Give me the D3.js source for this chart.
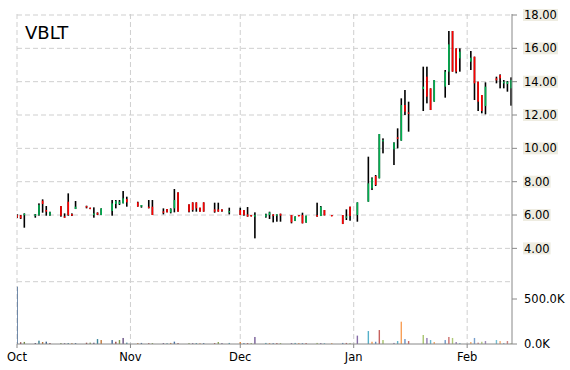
<!DOCTYPE html>
<html>
<head>
<meta charset="utf-8">
<script src="https://cdn.jsdelivr.net/npm/d3@7"></script>
<style>
  body { margin: 0; background: #fff; }
  svg { display: block; }
  text { font-family: "DejaVu Sans", Verdana, sans-serif; }
</style>
</head>
<body>
<div id="chart"></div>
<script>
// VBLT daily candles + volume, Oct 2025 - Feb 2026
const ticker = "VBLT";

const dates = [
  "2025-10-01","2025-10-02","2025-10-03","2025-10-06","2025-10-07","2025-10-08","2025-10-09","2025-10-10",
  "2025-10-13","2025-10-14","2025-10-15","2025-10-16","2025-10-17","2025-10-20","2025-10-21","2025-10-22",
  "2025-10-23","2025-10-24","2025-10-27","2025-10-28","2025-10-29","2025-10-30","2025-10-31",
  "2025-11-03","2025-11-04","2025-11-06","2025-11-07","2025-11-10","2025-11-11","2025-11-12","2025-11-13",
  "2025-11-14","2025-11-17","2025-11-18","2025-11-19","2025-11-20","2025-11-21","2025-11-24","2025-11-25",
  "2025-11-26","2025-11-28",
  "2025-12-01","2025-12-02","2025-12-03","2025-12-04","2025-12-05","2025-12-08","2025-12-09","2025-12-10",
  "2025-12-11","2025-12-12","2025-12-15","2025-12-16","2025-12-17","2025-12-18","2025-12-19","2025-12-22",
  "2025-12-23","2025-12-24","2025-12-26","2025-12-29","2025-12-30","2025-12-31",
  "2026-01-02","2026-01-05","2026-01-06","2026-01-07","2026-01-08","2026-01-09","2026-01-12","2026-01-13",
  "2026-01-14","2026-01-15","2026-01-16","2026-01-20","2026-01-21","2026-01-22","2026-01-23","2026-01-26",
  "2026-01-27","2026-01-28","2026-01-29","2026-01-30",
  "2026-02-02","2026-02-03","2026-02-04","2026-02-05","2026-02-06","2026-02-09","2026-02-10","2026-02-11",
  "2026-02-12","2026-02-13"
];

const opens = [
  6.00,5.98,6.00,5.96,6.00,6.86,6.30,5.98, 6.54,5.92,6.80,6.06,6.36,6.54,6.44,6.00, 6.14,6.00,6.24,6.66,6.66,6.70,6.96,
  6.76,6.50,6.50,6.50,6.22,6.36,6.16,6.40, 7.36,6.64,6.76,6.76,6.44,6.76,6.34,6.34, 6.34,6.20,
  6.30,6.30,6.04,6.00,5.90,5.90,6.00,6.04, 5.96,6.08,6.00,5.64,6.00,6.00,5.54,6.00, 5.94,6.30,6.00,6.00,5.90,6.50,
  6.00,6.80,7.60,8.34,8.20,10.46,9.94,10.66, 10.46,12.60,12.16,13.56,14.30,13.60,12.80,13.70, 14.60,17.04,16.00,15.40,
  15.20,15.50,14.00,13.20,12.54,14.20,14.40,13.90, 13.86,13.60
];
const highs = [
  6.05,6.00,6.10,6.06,6.70,6.94,6.54,6.20, 6.54,6.10,7.30,6.10,6.84,6.56,6.44,6.46, 6.16,6.40,6.90,6.90,6.90,7.44,7.10,
  6.80,6.60,6.90,6.90,6.40,6.36,6.40,7.56, 7.36,6.64,6.76,6.76,6.44,6.76,6.74,6.74, 6.34,6.44,
  6.44,6.30,6.48,6.00,6.16,6.08,6.20,6.04, 6.04,6.08,6.00,5.92,6.00,6.14,5.96,6.74, 6.54,6.30,6.00,6.00,6.34,6.50,
  6.76,9.50,8.26,8.40,10.86,10.60,10.36,11.20, 13.00,13.50,12.80,14.90,14.90,13.60,14.10,14.70, 17.04,17.04,16.00,16.00,
  15.84,15.50,14.00,13.20,13.96,14.30,14.44,14.10, 14.04,14.26
];
const lows = [
  5.82,5.76,5.24,5.84,5.96,6.14,5.96,5.96, 5.90,5.84,5.96,5.94,6.36,6.40,6.36,5.84, 6.00,6.00,5.96,6.40,6.60,6.70,6.50,
  6.50,6.44,6.40,6.00,6.04,6.16,6.10,6.16, 6.20,6.16,6.20,6.20,6.20,6.20,6.14,6.20, 6.20,6.04,
  6.00,5.96,5.90,5.92,4.60,5.84,5.76,5.56, 5.60,5.60,5.50,5.64,5.94,5.50,5.54,5.90, 5.94,5.98,5.96,5.46,5.70,5.66,
  5.60,6.80,7.50,7.74,8.20,9.70,9.00,10.00, 10.46,12.00,11.00,12.24,12.70,12.30,12.80,13.04, 13.80,14.60,14.50,14.60,
  14.70,12.90,12.24,12.10,12.04,13.90,13.60,13.60, 13.40,12.56
];
const closes = [
  5.85,5.80,6.08,6.04,6.60,6.66,6.20,6.18, 5.96,5.86,6.00,5.96,6.50,6.46,6.38,6.10, 6.02,6.40,6.70,6.84,6.80,7.00,6.76,
  6.50,6.60,6.44,6.00,6.20,6.16,6.36,6.90, 6.20,6.20,6.30,6.40,6.20,6.20,6.20,6.20, 6.22,6.24,
  6.00,6.00,5.90,5.92,6.00,6.04,6.16,6.00, 6.04,5.96,5.56,5.92,5.96,5.50,5.96,5.90, 6.50,5.98,5.96,5.46,5.92,5.94,
  6.76,7.90,8.20,7.80,10.86,10.50,10.34,10.58, 12.60,12.20,12.12,13.70,13.10,12.30,14.10,14.60, 16.24,14.60,14.60,15.80,
  15.44,13.90,12.80,12.24,13.70,14.08,14.20,14.00, 14.00,14.10
];
const volumes = [
  637000,19000,23000,11000,37000,22000,26000,11000, 10000,8000,10000,9000,10000,14000,15000,14000, 55000,44000,44000,25000,44000,67000,15000,
  10000,12000,9000,10000,10000,8000,12000,26000, 10000,10000,9000,10000,8000,10000,10000,22000, 10000,12000,
  22000,10000,10000,10000,78000,12000,10000,9000, 10000,10000,10000,12000,10000,9000,10000,12000, 10000,8000,9000,12000,12000,10000,
  93000,144000,25000,25000,155000,44000,12000,33000, 248000,55000,33000,100000,67000,44000,22000,44000, 78000,67000,22000,11000,
  22000,67000,15000,25000,33000,44000,33000,10000, 33000,8000
];

const priceTicks = [2, 4, 6, 8, 10, 12, 14, 16, 18];
const volumeTicks = [0, 500000];
const volBase = ["#4f81bd", "#c0504d", "#9bbb59", "#8064a2", "#4bacc6", "#f79646"];

const W = 570, H = 370;
const plotLeft = 17, plotRight = 512, plotBottom = 344, plotTop = 14;
const parse = d3.timeParse("%Y-%m-%d");

const rows = dates.map((d, i) => ({
  date: parse(d), open: opens[i], high: highs[i], low: lows[i], close: closes[i], volume: volumes[i], i: i
}));

const svg = d3.select("#chart").append("svg")
  .attr("width", W)
  .attr("height", H);

const x = d3.scaleTime()
  .domain([parse("2025-10-01"), d3.timeHour.offset(parse("2026-02-13"), 6)])
  .range([plotLeft, plotRight]);
const y = d3.scaleLinear().domain([2, 18]).range([281.7, 15]);
const yv = d3.scaleLinear().domain([0, 500000]).range([plotBottom, 299]);

// grid
const grid = svg.append("g").attr("stroke", "#cfcfcf").attr("stroke-dasharray", "5,3");
grid.selectAll(".hgrid")
  .data(priceTicks)
  .enter().append("line")
  .attr("x1", plotLeft).attr("x2", plotRight)
  .attr("y1", d => y(d)).attr("y2", d => y(d));
const months = x.ticks(d3.timeMonth.every(1));
grid.selectAll(".vgrid")
  .data(months)
  .enter().append("line")
  .attr("x1", d => x(d)).attr("x2", d => x(d))
  .attr("y1", plotTop).attr("y2", plotBottom);

svg.append("defs").append("clipPath").attr("id", "plotClip")
  .append("rect").attr("x", plotLeft).attr("y", 0).attr("width", plotRight - plotLeft).attr("height", plotBottom);

// volume bars, colour cycles through the palette and fades over time
function volColor(i) {
  let base = volBase[i % 6], t = -0.4 + Math.floor(i / 6) * 0.045;
  if (t < 0) return d3.color(base).darker(-t * 2.2).formatHex();
  return d3.interpolateRgb(base, "#ffffff")(t);
}
const plot = svg.append("g").attr("clip-path", "url(#plotClip)");
plot.selectAll(".vol")
  .data(rows)
  .enter().append("rect")
  .attr("class", "vol")
  .attr("x", d => x(d.date) - 0.7)
  .attr("width", 1.4)
  .attr("y", d => yv(d.volume))
  .attr("height", d => plotBottom - yv(d.volume))
  .attr("fill", d => volColor(d.i));

// candles
const bw = 1.6;
const candle = plot.selectAll(".candle")
  .data(rows)
  .enter().append("g").attr("class", "candle");
candle.append("rect")
  .attr("x", d => x(d.date) - bw / 2)
  .attr("width", bw)
  .attr("y", d => y(d.high))
  .attr("height", d => Math.max(1, y(d.low) - y(d.high)))
  .attr("fill", "#000");
candle.filter(d => d.open !== d.close).append("rect")
  .attr("x", d => x(d.date) - bw / 2)
  .attr("width", bw)
  .attr("y", d => y(Math.max(d.open, d.close)))
  .attr("height", d => Math.max(1.5, Math.abs(y(d.open) - y(d.close))))
  .attr("fill", d => d.close > d.open ? "#00b050" : "#ff0000");

// axes
const axis = svg.append("g").attr("stroke", "#888").attr("stroke-width", 1);
axis.append("line").attr("x1", plotRight).attr("x2", plotRight).attr("y1", plotTop).attr("y2", plotBottom);
axis.append("line").attr("x1", plotLeft).attr("x2", plotRight).attr("y1", plotBottom).attr("y2", plotBottom);
axis.selectAll(".ptick")
  .data(priceTicks.filter(d => d >= 4))
  .enter().append("line")
  .attr("x1", plotRight).attr("x2", plotRight + 5)
  .attr("y1", d => y(d)).attr("y2", d => y(d));
axis.selectAll(".vtick")
  .data(volumeTicks)
  .enter().append("line")
  .attr("x1", plotRight).attr("x2", plotRight + 5)
  .attr("y1", d => yv(d)).attr("y2", d => yv(d));
axis.selectAll(".xtick")
  .data(months)
  .enter().append("line")
  .attr("x1", d => x(d)).attr("x2", d => x(d))
  .attr("y1", plotBottom).attr("y2", plotBottom + 4);

// price labels with beige backing
const plabels = svg.selectAll(".plabel")
  .data(priceTicks.filter(d => d >= 4))
  .enter().append("g")
  .attr("class", "plabel")
  .attr("transform", d => `translate(524, ${y(d)})`);
plabels.append("text")
  .attr("dy", "0.36em")
  .attr("font-size", "11.5px")
  .attr("fill", "#000")
  .text(d => d3.format(".2f")(d));
plabels.each(function () {
  let g = d3.select(this), bb = g.select("text").node().getBBox();
  g.insert("rect", "text")
    .attr("x", -1).attr("y", -6)
    .attr("width", bb.width + 2).attr("height", 12)
    .attr("fill", "#eeece1");
});

svg.selectAll(".vlabel")
  .data(volumeTicks)
  .enter().append("text")
  .attr("x", 524)
  .attr("y", d => yv(d))
  .attr("dy", "0.36em")
  .attr("font-size", "11.5px")
  .attr("fill", "#000")
  .text(d => d3.format(".1f")(d / 1000) + "K");

svg.selectAll(".xlabel")
  .data(months)
  .enter().append("text")
  .attr("x", d => x(d))
  .attr("y", 361)
  .attr("text-anchor", "middle")
  .attr("font-size", "11.5px")
  .attr("fill", "#000")
  .text(d => d3.timeFormat("%b")(d));

svg.append("text")
  .attr("x", 25)
  .attr("y", 39)
  .attr("font-size", "18px")
  .attr("fill", "#000")
  .text(ticker);
</script>
</body>
</html>
